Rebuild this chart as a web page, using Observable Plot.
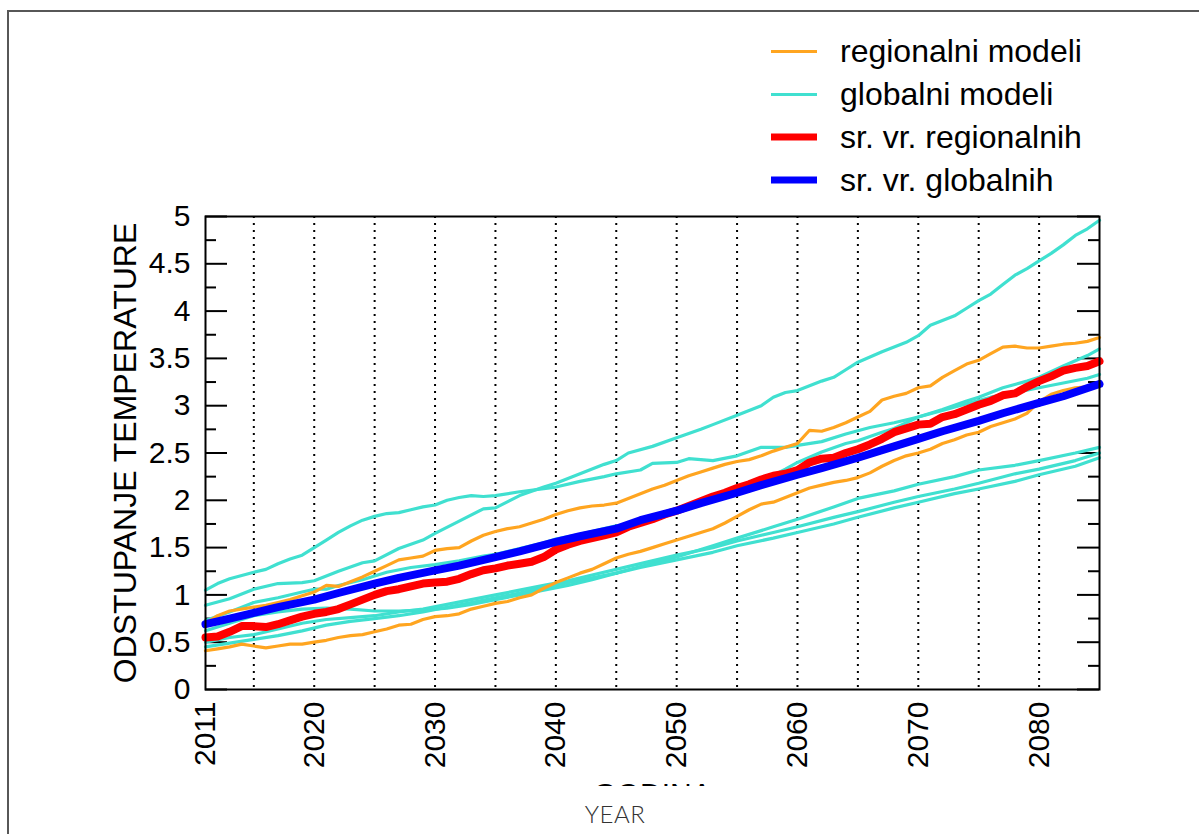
<!DOCTYPE html>
<html>
<head>
<meta charset="utf-8">
<script src="https://cdn.jsdelivr.net/npm/d3@7"></script>
<script src="https://cdn.jsdelivr.net/npm/@observablehq/plot@0.6"></script>
<style>
  html, body { margin: 0; padding: 0; background: #fff; overflow: hidden; width: 1199px; height: 834px; }
  #wrap { position: relative; width: 1199px; height: 834px; overflow: hidden; }
  #border { position: absolute; left: 7px; top: 10px; width: 1300px; height: 1000px; border: 2px solid #575757; box-sizing: border-box; }
  #chart { position: absolute; left: 0; top: 0; }
  #legend { position: absolute; left: 0; top: 0; }
  #year { position: absolute; left: 0; width: 1230px; top: 799px; text-align: center; font-family: Lato, "Open Sans", sans-serif; font-weight: 300; font-size: 24px; color: #333; letter-spacing: 0.5px; }
</style>
</head>
<body>
<div id="wrap">
  <div id="border"></div>
  <div id="chart"></div>
  <svg id="legend" width="1199" height="215"></svg>
  <div id="year">YEAR</div>
</div>
<script>
// ---------- data ----------
const xTickYears = [2011, 2020, 2030, 2040, 2050, 2060, 2070, 2080];
const gridYears = [2015, 2020, 2025, 2030, 2035, 2040, 2045, 2050, 2055, 2060, 2065, 2070, 2075, 2080];
const yMajorTicks = [0, 0.5, 1, 1.5, 2, 2.5, 3, 3.5, 4, 4.5, 5];
const yMinorTicks = [0.25, 0.75, 1.25, 1.75, 2.25, 2.75, 3.25, 3.75, 4.25, 4.75];

const legendLabels = ["regionalni modeli", "globalni modeli", "sr. vr. regionalnih", "sr. vr. globalnih"];
const legendColors = ["#FFA520", "#40E0D0", "#FF0000", "#0000FF"];

// regional models (orange)
const regional1 = [[2011,0.70],[2012,0.78],[2013,0.83],[2015,0.87],[2016,0.89],[2017,0.92],[2018,0.95],[2019,0.99],[2020,1.03],[2021,1.10],[2022,1.09],[2023,1.14],[2024,1.19],[2025,1.25],[2026,1.31],[2027,1.37],[2028,1.39],[2029,1.41],[2030,1.47],[2031,1.49],[2032,1.50],[2033,1.57],[2034,1.63],[2035,1.67],[2036,1.70],[2037,1.72],[2038,1.76],[2039,1.80],[2040,1.85],[2041,1.89],[2042,1.92],[2043,1.94],[2044,1.95],[2045,1.97],[2046,2.02],[2047,2.07],[2048,2.12],[2049,2.16],[2050,2.21],[2051,2.26],[2052,2.30],[2053,2.34],[2054,2.38],[2055,2.41],[2056,2.43],[2057,2.47],[2058,2.52],[2059,2.56],[2060,2.60],[2061,2.74],[2062,2.73],[2063,2.77],[2064,2.82],[2065,2.88],[2066,2.94],[2067,3.06],[2068,3.10],[2069,3.13],[2070,3.19],[2071,3.21],[2072,3.30],[2073,3.37],[2074,3.44],[2075,3.48],[2076,3.55],[2077,3.62],[2078,3.63],[2079,3.61],[2080,3.61],[2081,3.63],[2082,3.65],[2083,3.66],[2084,3.68],[2085,3.72]];
const regional2 = [[2011,0.41],[2012,0.43],[2013,0.45],[2014,0.48],[2015,0.46],[2016,0.44],[2017,0.46],[2018,0.48],[2019,0.48],[2020,0.50],[2021,0.52],[2022,0.55],[2023,0.57],[2024,0.58],[2025,0.61],[2026,0.64],[2027,0.68],[2028,0.69],[2029,0.74],[2030,0.77],[2031,0.78],[2032,0.80],[2033,0.85],[2034,0.88],[2035,0.91],[2036,0.93],[2037,0.97],[2038,1.00],[2039,1.07],[2040,1.13],[2041,1.18],[2042,1.23],[2043,1.27],[2044,1.33],[2045,1.39],[2046,1.43],[2047,1.46],[2048,1.50],[2049,1.54],[2050,1.58],[2051,1.62],[2052,1.66],[2053,1.70],[2054,1.76],[2055,1.83],[2056,1.90],[2057,1.96],[2058,1.98],[2059,2.03],[2060,2.08],[2061,2.13],[2062,2.16],[2063,2.19],[2064,2.21],[2065,2.24],[2066,2.29],[2067,2.36],[2068,2.42],[2069,2.47],[2070,2.50],[2071,2.54],[2072,2.60],[2073,2.64],[2074,2.69],[2075,2.72],[2076,2.78],[2077,2.82],[2078,2.86],[2079,2.92],[2080,3.04],[2081,3.12],[2082,3.16],[2083,3.19],[2084,3.20],[2085,3.22]];

// global models (turquoise)
const global1 = [[2011,1.05],[2012,1.12],[2013,1.17],[2015,1.24],[2016,1.27],[2017,1.33],[2018,1.38],[2019,1.42],[2020,1.50],[2021,1.58],[2022,1.66],[2023,1.73],[2024,1.79],[2025,1.83],[2026,1.86],[2027,1.87],[2028,1.90],[2029,1.93],[2030,1.95],[2031,2.00],[2032,2.03],[2033,2.05],[2034,2.04],[2035,2.05],[2037,2.09],[2040,2.14],[2042,2.20],[2044,2.25],[2045,2.28],[2047,2.32],[2048,2.39],[2050,2.40],[2051,2.44],[2053,2.42],[2055,2.47],[2057,2.56],[2059,2.56],[2060,2.58],[2062,2.62],[2064,2.70],[2066,2.77],[2068,2.82],[2070,2.88],[2072,2.95],[2074,3.02],[2076,3.09],[2078,3.14],[2080,3.19],[2082,3.24],[2084,3.29],[2085,3.33]];
const global2 = [[2011,0.89],[2013,0.96],[2015,1.06],[2017,1.12],[2019,1.13],[2020,1.15],[2022,1.25],[2024,1.34],[2025,1.36],[2027,1.49],[2029,1.58],[2030,1.65],[2032,1.78],[2034,1.91],[2035,1.92],[2037,2.05],[2039,2.14],[2040,2.18],[2042,2.28],[2044,2.38],[2045,2.42],[2046,2.50],[2048,2.57],[2050,2.66],[2052,2.75],[2053,2.80],[2055,2.90],[2057,3.00],[2058,3.09],[2059,3.14],[2060,3.16],[2062,3.26],[2063,3.30],[2064,3.38],[2065,3.46],[2067,3.57],[2069,3.67],[2070,3.74],[2071,3.85],[2072,3.90],[2073,3.95],[2074,4.03],[2075,4.11],[2076,4.18],[2077,4.28],[2078,4.38],[2079,4.45],[2080,4.53],[2081,4.61],[2082,4.70],[2083,4.80],[2084,4.87],[2085,4.96]];
const global3 = [[2011,0.73],[2013,0.82],[2015,0.92],[2017,0.97],[2019,1.03],[2020,1.06],[2021,1.06],[2022,1.10],[2024,1.16],[2026,1.24],[2028,1.29],[2030,1.32],[2032,1.36],[2034,1.41],[2035,1.43],[2037,1.49],[2039,1.55],[2040,1.59],[2042,1.64],[2044,1.70],[2045,1.73],[2047,1.76],[2048,1.82],[2050,1.91],[2052,2.00],[2054,2.07],[2055,2.10],[2057,2.20],[2059,2.33],[2060,2.40],[2062,2.51],[2064,2.60],[2065,2.63],[2067,2.72],[2068,2.76],[2070,2.88],[2072,2.96],[2074,3.05],[2075,3.09],[2077,3.19],[2079,3.26],[2080,3.30],[2082,3.42],[2084,3.53],[2085,3.60]];
const global4 = [[2011,0.62],[2013,0.70],[2015,0.78],[2017,0.82],[2019,0.85],[2021,0.86],[2023,0.85],[2025,0.83],[2027,0.83],[2029,0.84],[2031,0.86],[2033,0.90],[2035,0.95],[2037,1.00],[2039,1.05],[2041,1.10],[2043,1.16],[2045,1.23],[2047,1.30],[2050,1.40],[2053,1.52],[2055,1.60],[2058,1.72],[2060,1.80],[2063,1.93],[2065,2.02],[2068,2.10],[2070,2.17],[2073,2.25],[2075,2.32],[2078,2.37],[2080,2.42],[2083,2.50],[2085,2.56]];
const global5 = [[2011,0.50],[2013,0.55],[2015,0.58],[2017,0.64],[2019,0.70],[2021,0.74],[2023,0.76],[2025,0.78],[2027,0.82],[2029,0.85],[2031,0.90],[2033,0.95],[2035,1.00],[2037,1.05],[2039,1.10],[2041,1.15],[2043,1.21],[2045,1.27],[2047,1.33],[2050,1.42],[2053,1.50],[2055,1.57],[2058,1.66],[2060,1.72],[2063,1.82],[2065,1.88],[2068,1.98],[2070,2.04],[2073,2.12],[2075,2.18],[2078,2.28],[2080,2.33],[2083,2.42],[2085,2.50]];
const global6 = [[2011,0.45],[2013,0.49],[2015,0.53],[2017,0.57],[2019,0.62],[2021,0.68],[2023,0.72],[2025,0.75],[2027,0.78],[2029,0.82],[2031,0.87],[2033,0.92],[2035,0.97],[2037,1.02],[2039,1.08],[2041,1.13],[2043,1.18],[2045,1.23],[2047,1.29],[2050,1.37],[2053,1.45],[2055,1.52],[2058,1.60],[2060,1.66],[2063,1.75],[2065,1.82],[2068,1.92],[2070,1.98],[2073,2.07],[2075,2.12],[2078,2.20],[2080,2.27],[2083,2.36],[2085,2.45]];

// ensemble means
const meanRegional = [[2011,0.55],[2012,0.56],[2013,0.61],[2014,0.67],[2015,0.67],[2016,0.66],[2017,0.69],[2018,0.73],[2019,0.77],[2020,0.80],[2021,0.82],[2022,0.85],[2023,0.90],[2024,0.95],[2025,1.00],[2026,1.04],[2027,1.06],[2028,1.09],[2029,1.12],[2030,1.13],[2031,1.14],[2032,1.17],[2033,1.22],[2034,1.26],[2035,1.28],[2036,1.31],[2037,1.33],[2038,1.35],[2039,1.40],[2040,1.48],[2041,1.53],[2042,1.57],[2043,1.60],[2044,1.63],[2045,1.66],[2046,1.72],[2047,1.76],[2048,1.80],[2049,1.85],[2050,1.89],[2051,1.94],[2052,1.99],[2053,2.04],[2054,2.08],[2055,2.13],[2056,2.17],[2057,2.22],[2058,2.26],[2059,2.28],[2060,2.32],[2061,2.40],[2062,2.44],[2063,2.45],[2064,2.50],[2065,2.54],[2066,2.59],[2067,2.65],[2068,2.72],[2069,2.76],[2070,2.80],[2071,2.81],[2072,2.88],[2073,2.91],[2074,2.96],[2075,3.01],[2076,3.05],[2077,3.11],[2078,3.13],[2079,3.20],[2080,3.26],[2081,3.31],[2082,3.37],[2083,3.40],[2084,3.42],[2085,3.47]];
const meanGlobal = [[2011,0.69],[2013,0.75],[2015,0.81],[2017,0.87],[2020,0.95],[2022,1.02],[2025,1.12],[2027,1.18],[2030,1.26],[2032,1.31],[2035,1.40],[2037,1.46],[2040,1.56],[2042,1.62],[2045,1.70],[2047,1.79],[2050,1.89],[2052,1.97],[2055,2.08],[2057,2.16],[2060,2.27],[2062,2.34],[2065,2.45],[2067,2.53],[2070,2.65],[2072,2.73],[2075,2.84],[2077,2.92],[2080,3.03],[2082,3.10],[2085,3.23]];

// ---------- build tables ----------
const toRows = (arr, series) => arr.map(([year, value]) => ({series, year, value}));
const regionalRows = [...toRows(regional1, "r1"), ...toRows(regional2, "r2")];
const globalRows = [global1, global2, global3, global4, global5, global6].flatMap((a, i) => toRows(a, "g" + i));
const meanRegRows = toRows(meanRegional, "mr");
const meanGloRows = toRows(meanGlobal, "mg");

const frameW = 1199 - 205 - 100;

const chart = Plot.plot({
  width: 1199,
  height: 786,
  marginLeft: 205,
  marginRight: 100,
  marginTop: 216,
  marginBottom: 97,
  style: {fontFamily: "'Liberation Sans', Arial, Helvetica, sans-serif", fontSize: "30px", color: "black", background: "transparent", overflow: "hidden"},
  x: {domain: [2011, 2085], ticks: xTickYears, tickFormat: d => String(d), tickRotate: -90, tickSize: 0, tickPadding: 12, label: null},
  y: {domain: [0, 5], ticks: yMajorTicks, tickFormat: d => String(d), tickSize: 0, tickPadding: 15, label: null},
  marks: [
    Plot.ruleX(gridYears, {x: d => d, stroke: "black", strokeWidth: 2, strokeDasharray: "2,5"}),
    Plot.tickY(yMajorTicks, {y: d => d, stroke: "black", strokeWidth: 2, insetRight: frameW - 22}),
    Plot.tickY(yMinorTicks, {y: d => d, stroke: "black", strokeWidth: 2, insetRight: frameW - 11}),
    Plot.tickY(yMajorTicks, {y: d => d, stroke: "black", strokeWidth: 2, insetLeft: frameW - 22}),
    Plot.tickY(yMinorTicks, {y: d => d, stroke: "black", strokeWidth: 2, insetLeft: frameW - 11}),
    Plot.line(globalRows, {x: "year", y: "value", z: "series", stroke: legendColors[1], strokeWidth: 3.2, strokeLinejoin: "round"}),
    Plot.line(regionalRows, {x: "year", y: "value", z: "series", stroke: legendColors[0], strokeWidth: 3.2, strokeLinejoin: "round"}),
    Plot.line(meanRegRows, {x: "year", y: "value", stroke: legendColors[2], strokeWidth: 8, strokeLinejoin: "round"}),
    Plot.line(meanGloRows, {x: "year", y: "value", stroke: legendColors[3], strokeWidth: 8, strokeLinejoin: "round"}),
    Plot.frame({stroke: "black", strokeWidth: 2}),
    Plot.text(["ODSTUPANJE TEMPERATURE"], {text: d => d, frameAnchor: "left", textAnchor: "middle", rotate: -90, dx: -80, fontSize: 32}),
    Plot.text(["GODINA"], {text: d => d, frameAnchor: "bottom", lineAnchor: "top", dy: 93, fontSize: 30})
  ]
});
chart.style.overflow = "hidden";
document.getElementById("chart").appendChild(chart);

// ---------- legend ----------
const lg = d3.select("#legend");
const rowY = [51.5, 94.5, 137, 180];
const widths = [3, 3, 7, 7];
legendLabels.forEach((label, i) => {
  lg.append("line").attr("x1", 771).attr("x2", 817).attr("y1", rowY[i]).attr("y2", rowY[i])
    .attr("stroke", legendColors[i]).attr("stroke-width", widths[i]);
  lg.append("text").attr("x", 840).attr("y", rowY[i] + 10.5)
    .attr("font-family", "'Liberation Sans', Arial, Helvetica, sans-serif")
    .attr("font-size", 32).attr("fill", "black").text(label);
});
</script>
</body>
</html>
